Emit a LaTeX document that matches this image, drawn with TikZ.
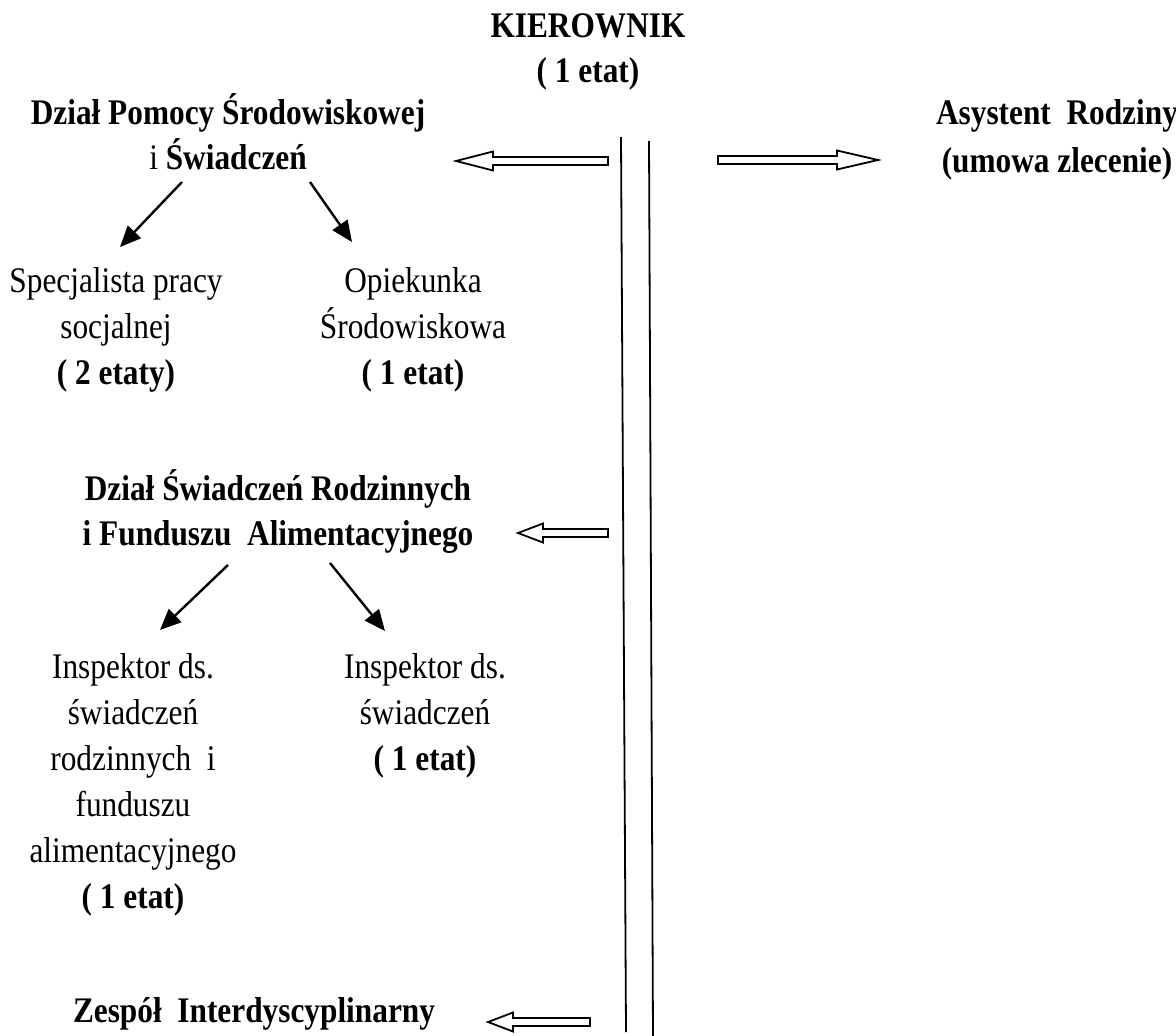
\documentclass[tikz,border=0pt]{standalone}
\usepackage{fontspec}
\setmainfont{Liberation Serif}[FakeStretch=0.87]
\usetikzlibrary{arrows.meta,calc}

\tikzset{
  txt/.style={font=\fontsize{36}{46}\selectfont, align=center, inner sep=0pt, anchor=base},
  head/.style={txt, font=\fontsize{36}{45}\selectfont\bfseries},
  arr/.style={line width=2.4pt, -{Triangle[length=21pt,width=18pt]}},
  hollowline/.style={line width=1.8pt, fill=white, line join=miter},
  rail/.style={line width=1.8pt}
}

% hollow block arrow: tail, tip, head length
\newcommand{\hollowarrow}[3]{%
  \draw[hollowline] let \p1=(#1), \p2=(#2), \n1={ifthenelse(\x2>\x1,1,-1)} in
    (\x1,\y1+4pt) -- ({\x2-\n1*#3},\y1+4pt) -- ({\x2-\n1*#3},\y1+9.5pt) -- (\x2,\y1)
    -- ({\x2-\n1*#3},\y1-9.5pt) -- ({\x2-\n1*#3},\y1-4pt) -- (\x1,\y1-4pt) -- cycle;}

\begin{document}
\begin{tikzpicture}[x=1pt,y=-1pt]
    \useasboundingbox (0,0) rectangle (1176,1036);
    % Top: manager and the two lines going down
    \node[head] (kier) at (588,82) {KIEROWNIK\\( 1 etat)};
    \coordinate (l1t) at (621,137);
    \coordinate (l1b) at (626,1032);
    \coordinate (l2t) at (649,141);
    \coordinate (l2b) at (653,1036);
    \draw[rail] (l1t) -- (l1b);
    \draw[rail] (l2t) -- (l2b);
    % First department
    \node[head, font=\fontsize{36}{45}\selectfont] (pomoc) at (228,169)
        {\textbf{Dział Pomocy Środowiskowej}\\i \textbf{Świadczeń}};
    \node[txt] (spec) at (116,384) {Specjalista pracy\\socjalnej\\\textbf{( 2 etaty)}};
    \node[txt] (opiek) at (413,384) {Opiekunka\\Środowiskowa\\\textbf{( 1 etat)}};
    \draw[arr] ([shift={(-46,13)}]pomoc.base) -- ([shift={(4,-137)}]spec.base);
    \draw[arr] ([shift={(82,13)}]pomoc.base) -- ([shift={(-61,-142)}]opiek.base);
    % Family assistant on the right
    \node[head, font=\fontsize{36}{48}\selectfont\bfseries] (asyst) at (1057,172)
        {Asystent\ \ Rodziny\\(umowa zlecenie)};
    % Second department
    \node[head] (rodz) at (278,545) {Dział Świadczeń Rodzinnych\\i Funduszu\ \ Alimentacyjnego};
    \node[txt] (insp1) at (133,908)
        {Inspektor ds.\\świadczeń\\rodzinnych\ \ i\\funduszu\\alimentacyjnego\\\textbf{( 1 etat)}};
    \node[txt] (insp2) at (425,770) {Inspektor ds.\\świadczeń\\\textbf{( 1 etat)}};
    \draw[arr] ([shift={(-50,20)}]rodz.base) -- ([shift={(27,-278)}]insp1.base);
    \draw[arr] ([shift={(52,18)}]rodz.base) -- ([shift={(-40,-139)}]insp2.base);
    % Team at the bottom
    \node[head] (zesp) at (254,1022) {Zespół\ \ Interdyscyplinarny};
    % Block arrows from the lines
    \coordinate (t1) at (608,161);
    \coordinate (t2) at (718,160);
    \coordinate (t3) at (608,533);
    \coordinate (t4) at (590,1022);
    \hollowarrow{t1}{[shift={(228,-8)}]pomoc.base}{37pt}
    \hollowarrow{t2}{[shift={(-179,-12)}]asyst.base}{41pt}
    \hollowarrow{t3}{[shift={(240,-12)}]rodz.base}{25pt}
    \hollowarrow{t4}{[shift={(234,0)}]zesp.base}{25pt}
\end{tikzpicture}
\end{document}
